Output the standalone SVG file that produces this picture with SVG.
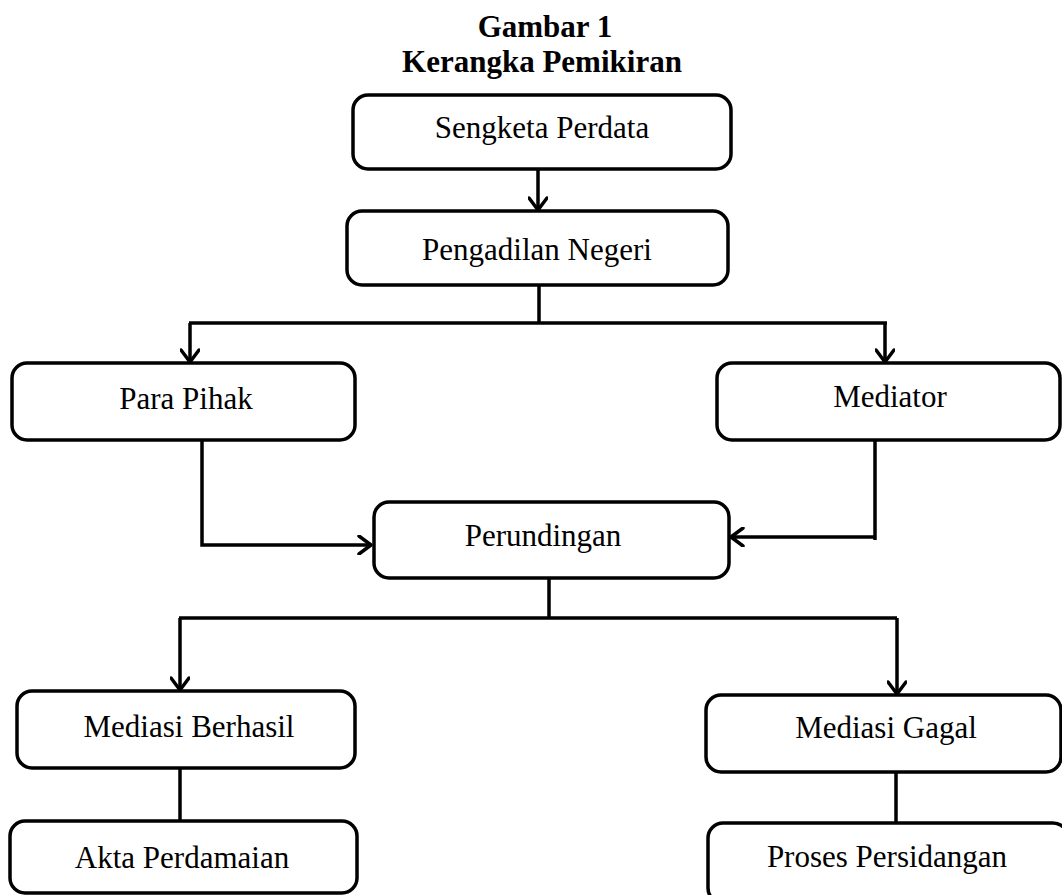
<svg xmlns="http://www.w3.org/2000/svg" width="1062" height="895" viewBox="0 0 1062 895">
<style>
.box{fill:#fff;stroke:#000;stroke-width:3.5}
.t{font-family:"Liberation Serif","Times New Roman",serif;font-size:31px;text-anchor:middle;fill:#000}
.h{font-family:"Liberation Serif","Times New Roman",serif;font-size:31px;font-weight:bold;text-anchor:middle;fill:#000}
.c{fill:none;stroke:#000;stroke-width:3.5}
</style>
<defs>
<marker id="arr" viewBox="0 0 20 20" refX="18" refY="10" markerWidth="20" markerHeight="20" markerUnits="userSpaceOnUse" orient="auto">
<path d="M6,1 L18,10 L6,19" fill="none" stroke="#000" stroke-width="3.5" stroke-linecap="round" stroke-linejoin="round"/>
</marker>
</defs>
<rect width="1062" height="895" fill="#fff"/>
<g id="title">
<text class="h" x="545" y="37">Gambar 1</text>
<text class="h" x="542" y="72">Kerangka Pemikiran</text>
</g>
<g id="connectors">
<path class="c" d="M538,169 V210" marker-end="url(#arr)"/>
<path class="c" d="M539,285 V323"/>
<path class="c" d="M189,323 H887"/>
<path class="c" d="M190,323 V362" marker-end="url(#arr)"/>
<path class="c" d="M885,323 V362" marker-end="url(#arr)"/>
<path class="c" d="M202,440 V545 H371" marker-end="url(#arr)"/>
<path class="c" d="M875,440 V540"/>
<path class="c" d="M876,537 H731" marker-end="url(#arr)"/>
<path class="c" d="M549,578 V618"/>
<path class="c" d="M179,618 H897"/>
<path class="c" d="M180,618 V690" marker-end="url(#arr)"/>
<path class="c" d="M897,618 V694" marker-end="url(#arr)"/>
<path class="c" d="M180,768 V821"/>
<path class="c" d="M896,772 V823"/>
</g>
<g id="sengketa">
<rect class="box" x="353" y="95" width="378" height="74" rx="15"/>
<text class="t" x="542" y="138">Sengketa Perdata</text>
</g>
<g id="pengadilan">
<rect class="box" x="347" y="211" width="381" height="74" rx="15"/>
<text class="t" x="537" y="260">Pengadilan Negeri</text>
</g>
<g id="parapihak">
<rect class="box" x="12" y="363" width="343" height="77" rx="15"/>
<text class="t" x="186" y="409">Para Pihak</text>
</g>
<g id="mediator">
<rect class="box" x="717" y="363" width="343" height="77" rx="15"/>
<text class="t" x="890" y="407">Mediator</text>
</g>
<g id="perundingan">
<rect class="box" x="374" y="502" width="355" height="76" rx="15"/>
<text class="t" x="543" y="546">Perundingan</text>
</g>
<g id="berhasil">
<rect class="box" x="17" y="691" width="338" height="77" rx="15"/>
<text class="t" x="189" y="737">Mediasi Berhasil</text>
</g>
<g id="gagal">
<rect class="box" x="706" y="695" width="355" height="77" rx="15"/>
<text class="t" x="886" y="738">Mediasi Gagal</text>
</g>
<g id="akta">
<rect class="box" x="10" y="821" width="347" height="72" rx="15"/>
<text class="t" x="182" y="868">Akta Perdamaian</text>
</g>
<g id="proses">
<rect class="box" x="708" y="823" width="360" height="80" rx="15"/>
<text class="t" x="887" y="867">Proses Persidangan</text>
</g>
</svg>
